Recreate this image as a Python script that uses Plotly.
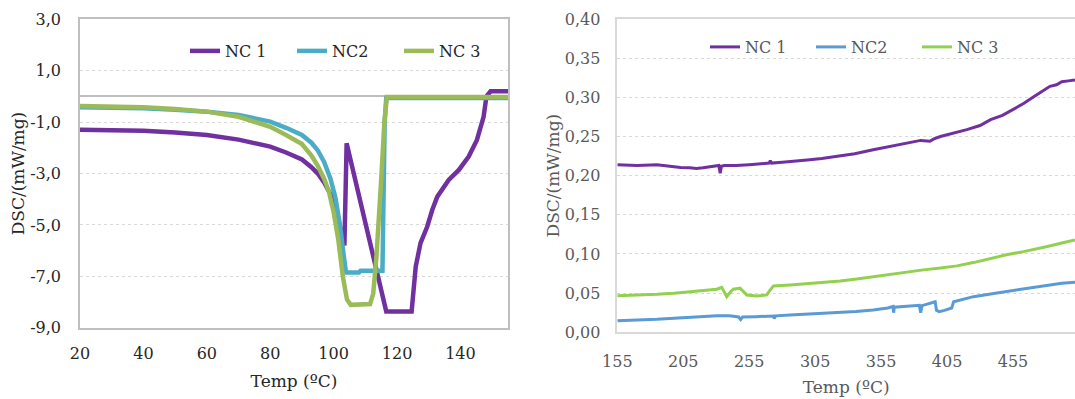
import plotly.graph_objects as go

# ---------------- Left chart data (20-155 °C) ----------------
nc1_left_t = [20, 30, 40, 50, 60, 70, 80, 85, 90, 93, 95, 97, 99, 100.5, 102, 103.4, 104.1, 107, 110, 113, 116.6,
              124.6, 125.9, 127.4, 129.5, 131.1, 132.7, 136.3, 139.5, 142.6, 145.2, 147.3, 148.2, 149.5, 155]
nc1_left_v = [-1.30, -1.30, -1.33, -1.40, -1.50, -1.68, -1.95, -2.18, -2.45, -2.75, -3.0, -3.35, -3.8, -4.3, -5.0,
              -5.8, -1.82, -3.35, -4.95, -6.5, -8.37, -8.37, -6.62, -5.71, -5.07, -4.42, -3.90, -3.25, -2.86,
              -2.34, -1.69, -0.79, 0.0, 0.2, 0.2]

nc2_left_t = [20, 30, 40, 50, 60, 70, 80, 85, 90, 93, 95, 97, 99, 100.5, 102, 103.2, 103.9, 108, 108.5, 115.4,
              116.1, 116.6, 125, 135, 145, 155]
nc2_left_v = [-0.42, -0.43, -0.46, -0.52, -0.59, -0.72, -0.98, -1.22, -1.50, -1.80, -2.1, -2.55, -3.2, -3.9, -5.0,
              -6.2, -6.85, -6.85, -6.78, -6.78, -1.0, -0.06, -0.06, -0.06, -0.06, -0.06]

nc3_left_t = [20, 30, 40, 50, 60, 70, 80, 85, 90, 93, 95, 97, 98.5, 100, 101.5, 102.9, 104.2, 105.4, 111.5, 112.5,
              113.5, 115, 116, 116.8, 125, 135, 145, 155]
nc3_left_v = [-0.37, -0.39, -0.42, -0.49, -0.59, -0.79, -1.18, -1.5, -1.85, -2.3, -2.7, -3.2, -3.7, -4.5, -5.6,
              -7.0, -7.9, -8.11, -8.08, -7.66, -6.23, -3.25, -1.0, -0.02, -0.02, -0.02, -0.02, -0.02]

# ---------------- Right chart data (155-500 °C) ----------------
nc1_right_t = [155, 170, 185, 195, 203, 210, 215, 220, 225, 230, 232, 233, 234, 236, 245, 255, 265, 270, 271, 272,
               280, 290, 299, 310, 324, 335, 349, 362, 375, 385, 392, 395, 400, 410, 420, 430, 438, 447, 455, 463,
               471, 477, 483, 488, 492, 497, 502]
nc1_right_v = [0.214, 0.213, 0.214, 0.212, 0.2105, 0.210, 0.209, 0.210, 0.211, 0.212, 0.213, 0.203, 0.212, 0.213,
               0.213, 0.214, 0.215, 0.216, 0.219, 0.216, 0.217, 0.219, 0.220, 0.222, 0.2254, 0.228, 0.233, 0.237,
               0.2417, 0.245, 0.244, 0.247, 0.250, 0.254, 0.2587, 0.264, 0.2715, 0.277, 0.284, 0.292, 0.301, 0.307,
               0.314, 0.316, 0.320, 0.321, 0.322]

nc2_right_t = [155, 170, 185, 198, 210, 220, 230.4, 240, 247, 248.5, 250, 260, 273.4, 274, 275, 286, 298.7, 311,
               324, 336, 349, 360, 364, 364.5, 365, 375, 384, 385, 386, 390, 396, 397, 399, 403, 407.4, 408.5, 410,
               418, 425, 438, 450.4, 463, 475.7, 484, 492, 502]
nc2_right_v = [0.0148, 0.0155, 0.0166, 0.018, 0.0192, 0.020, 0.0212, 0.021, 0.0195, 0.0162, 0.0195, 0.020, 0.0208,
               0.0175, 0.021, 0.0222, 0.0234, 0.0242, 0.025, 0.0265, 0.0285, 0.031, 0.033, 0.025, 0.032, 0.0335,
               0.0345, 0.025, 0.034, 0.036, 0.039, 0.028, 0.0263, 0.028, 0.0307, 0.031, 0.039, 0.042, 0.0455,
               0.049, 0.052, 0.055, 0.0583, 0.061, 0.0627, 0.064]

nc3_right_t = [155, 170, 185, 198, 210, 220, 230.4, 234.2, 236, 238, 241, 243, 248, 250, 253.2, 260.8, 268.3, 270,
               273.4, 286, 298, 311, 324, 336.6, 349, 362, 375, 387, 400, 412.5, 425, 438, 450, 463, 472, 481, 492,
               502]
nc3_right_v = [0.0468, 0.0475, 0.0486, 0.050, 0.052, 0.0535, 0.055, 0.0575, 0.052, 0.0455, 0.052, 0.055, 0.0563,
               0.053, 0.0477, 0.0464, 0.0477, 0.052, 0.0592, 0.0605, 0.062, 0.0634, 0.0655, 0.0681, 0.071, 0.0745,
               0.077, 0.0797, 0.082, 0.0848, 0.089, 0.0946, 0.099, 0.103, 0.106, 0.1095, 0.114, 0.118]

series_names = ["NC 1", "NC2", "NC 3"]
left_y_ticks = [3, 1, -1, -3, -5, -7, -9]
left_y_labels = ["3,0", "1,0", "-1,0", "-3,0", "-5,0", "-7,0", "-9,0"]
left_x_ticks = [20, 40, 60, 80, 100, 120, 140]
right_y_ticks = [0.0, 0.05, 0.10, 0.15, 0.20, 0.25, 0.30, 0.35, 0.40]
right_y_labels = ["0,00", "0,05", "0,10", "0,15", "0,20", "0,25", "0,30", "0,35", "0,40"]
right_x_ticks = [155, 205, 255, 305, 355, 405, 455]
x_title = "Temp (ºC)"
y_title = "DSC/(mW/mg)"

FONT = "DejaVu Serif"
left_colors = ["#7030A0", "#4BACC6", "#9BBB59"]
right_colors = ["#7030A0", "#5B9BD5", "#92D050"]

fig = go.Figure()
left_data = [(nc1_left_t, nc1_left_v), (nc2_left_t, nc2_left_v), (nc3_left_t, nc3_left_v)]
right_data = [(nc1_right_t, nc1_right_v), (nc2_right_t, nc2_right_v), (nc3_right_t, nc3_right_v)]

for (t, v), name, c in zip(left_data, series_names, left_colors):
    fig.add_trace(go.Scatter(x=t, y=v, name=name, mode="lines", line=dict(color=c, width=4.5),
                             xaxis="x", yaxis="y", legend="legend"))
for (t, v), name, c in zip(right_data, series_names, right_colors):
    fig.add_trace(go.Scatter(x=t, y=v, name=name, mode="lines", line=dict(color=c, width=3),
                             xaxis="x2", yaxis="y2", legend="legend2"))

grid = "#D9D9D9"
border = "#BFBFBF"
dark = "#262626"
gray = "#595959"

fig.update_layout(
    width=1075, height=399,
    margin=dict(l=0, r=0, t=0, b=0, autoexpand=False),
    paper_bgcolor="white", plot_bgcolor="white",
    separators=",.",
    font=dict(family=FONT, size=16, color=dark),
    xaxis=dict(domain=[80 / 1075, 508 / 1075], range=[20, 155], tickvals=left_x_ticks, automargin=False,
               showgrid=False, zeroline=False, showline=True, mirror=True, linecolor=border, linewidth=1.5,
               ticks="outside", ticklen=10, tickcolor="rgba(0,0,0,0)", anchor="y",
               tickfont=dict(size=16, color=dark),
               title=dict(text=x_title, font=dict(size=17, color=dark), standoff=13)),
    yaxis=dict(domain=[1 - 327.7 / 399, 1 - 19.4 / 399], range=[-9, 3], tickvals=left_y_ticks,
               ticktext=left_y_labels, automargin=False,
               showgrid=True, gridcolor=grid, griddash="dot", gridwidth=1.2,
               zeroline=True, zerolinecolor=border, zerolinewidth=1.5,
               showline=True, mirror=True, linecolor=border, linewidth=1.5,
               ticks="outside", ticklen=14, tickcolor="rgba(0,0,0,0)", anchor="x",
               tickfont=dict(size=16, color=dark),
               title=dict(text=y_title, font=dict(size=17, color=dark), standoff=1)),
    xaxis2=dict(domain=[617.3 / 1075, 1.0], range=[155, 502], tickvals=right_x_ticks, automargin=False,
                showgrid=False, zeroline=False, showline=True, mirror=True, linecolor=grid, linewidth=1.5,
                ticks="outside", ticklen=14, tickcolor="rgba(0,0,0,0)", anchor="y2",
                tickfont=dict(size=16, color=gray),
                title=dict(text=x_title, font=dict(size=17, color=gray), standoff=11)),
    yaxis2=dict(domain=[1 - 332.3 / 399, 1 - 19 / 399], range=[0, 0.40], tickvals=right_y_ticks,
                ticktext=right_y_labels, automargin=False,
                showgrid=True, gridcolor=grid, griddash="dot", gridwidth=1.2,
                zeroline=False, showline=True, mirror=True, linecolor=grid, linewidth=1.5,
                ticks="outside", ticklen=12, tickcolor="rgba(0,0,0,0)", anchor="x2",
                tickfont=dict(size=16, color=gray),
                title=dict(text=y_title, font=dict(size=17, color=gray), standoff=1)),
    legend=dict(orientation="h", x=185 / 1075, y=1 - 51 / 399, xanchor="left", yanchor="middle",
                font=dict(size=16, color=dark), bgcolor="rgba(0,0,0,0)",
                entrywidth=62, entrywidthmode="pixels"),
    legend2=dict(orientation="h", x=705 / 1075, y=1 - 47 / 399, xanchor="left", yanchor="middle",
                 font=dict(size=16, color=gray), bgcolor="rgba(0,0,0,0)",
                 entrywidth=61, entrywidthmode="pixels"),
)

fig.write_html("out.html", config={"displayModeBar": False},
               post_script="document.body.style.margin='0px';document.body.style.overflow='hidden';")
